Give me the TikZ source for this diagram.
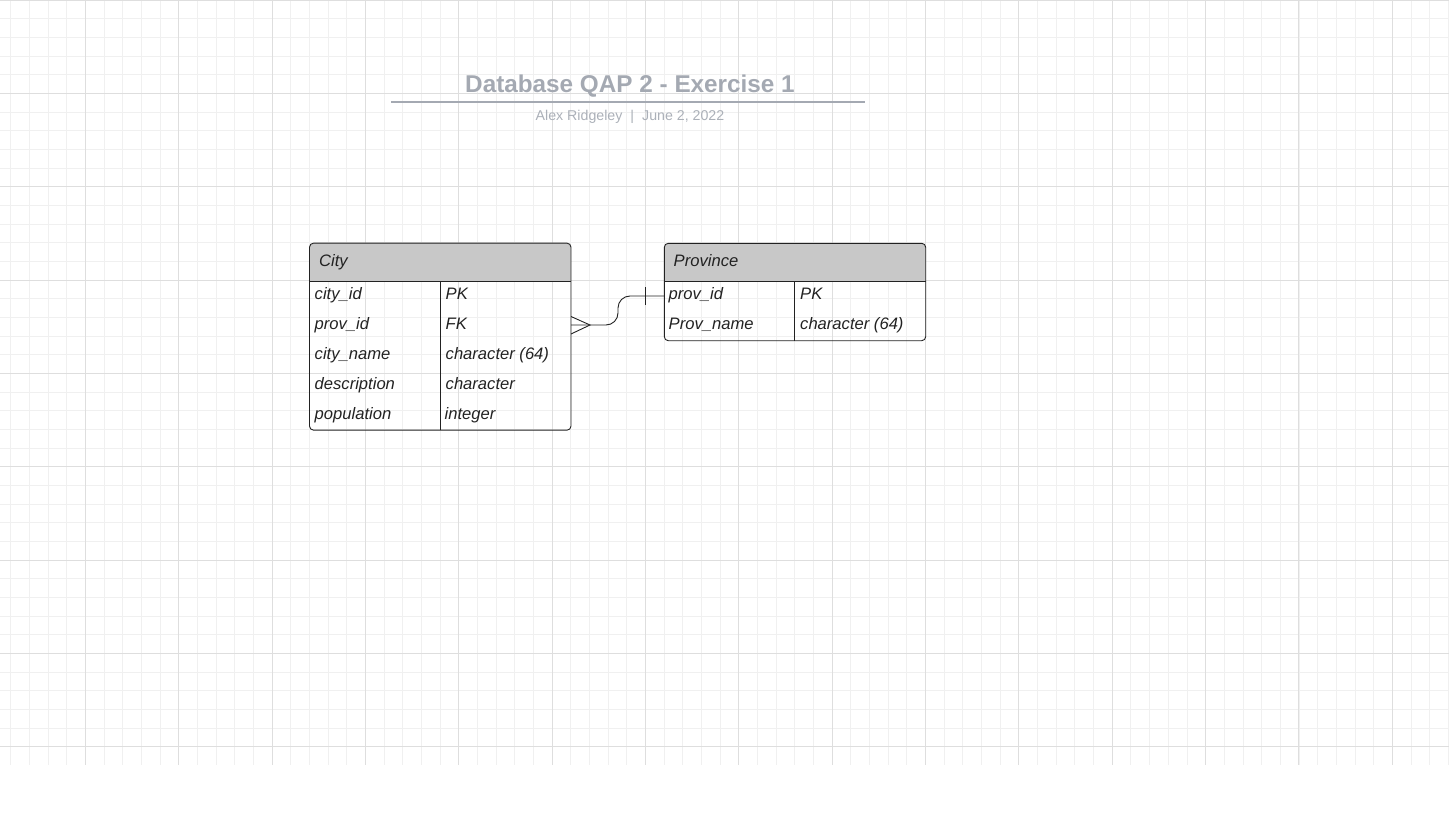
\documentclass[tikz,border=0pt]{standalone}
\usepackage{fontspec}
\setmainfont{Liberation Sans}
\usetikzlibrary{arrows}

\definecolor{gridMinor}{HTML}{F0F0F0}
\definecolor{gridMajor}{HTML}{DEDEDE}
\definecolor{titleGray}{HTML}{A4A9B2}
\definecolor{subGray}{HTML}{ABB0B8}
\definecolor{headGray}{HTML}{C8C8C8}
\definecolor{inkGray}{HTML}{222222}

\begin{document}
\begin{tikzpicture}[x = 1pt, y = -1pt]
	\tikzstyle{minorLine} = [draw = gridMinor, line width = 1pt]
	\tikzstyle{majorLine} = [draw = gridMajor, line width = 1pt]
	\tikzstyle{tableBox} = [shape = rectangle, inner sep = 0pt, outer sep = 0pt]
	\tikzstyle{tableLine} = [draw = inkGray, line width = 0.9pt]
	\tikzstyle{fieldText} = [anchor = base west, inner sep = 0pt, text = inkGray, font = \fontsize{16.6}{18}\selectfont\itshape]
	\tikzstyle{linkLine} = [draw = inkGray, line width = 0.9pt]
	\useasboundingbox (0,0) rectangle (1449,824);
	% grid
	\foreach \k in {1,...,78}
		\draw[minorLine] ({-7.7+18.667*\k},0) -- ({-7.7+18.667*\k},765);
	\foreach \k in {0,...,40}
		\draw[minorLine] (0,{0.3+18.667*\k}) -- (1449,{0.3+18.667*\k});
	\foreach \k in {1,...,15}
		\draw[majorLine] ({-7.7+93.333*\k},0) -- ({-7.7+93.333*\k},765);
	\foreach \k in {0,...,8}
		\draw[majorLine] (0,{0.3+93.333*\k}) -- (1449,{0.3+93.333*\k});
	% title
	\node[anchor = base, inner sep = 0pt, text = titleGray, font = \fontsize{24.3}{28}\selectfont\bfseries] (title) at (630,92.3) {Database QAP 2 - Exercise 1};
	\draw[draw = titleGray, line width = 2pt] (391,101.7) -- (865,101.7);
	\node[anchor = base, inner sep = 0pt, text = subGray, font = \fontsize{14.2}{17}\selectfont] (subtitle) at (630,121) {Alex Ridgeley\hspace{8pt}|\hspace{8pt}June 2, 2022};
	% City table
	\node[tableBox, minimum width = 261.5pt, minimum height = 187pt] (city) at (440.25,336.65) {};
	\begin{scope}
		\clip[rounded corners = 4pt] (city.north west) rectangle (city.south east);
		\fill[headGray] (city.north west) rectangle (571,281);
	\end{scope}
	\draw[tableLine, rounded corners = 4pt] (city.north west) rectangle (city.south east);
	\draw[tableLine] (309.5,281) -- (571,281);
	\draw[tableLine] (440.3,281) -- (440.3,430.1);
	\node[fieldText] (cityHead) at (319,266.5) {City};
	\node[fieldText] (cityId) at (314.5,299.5) {city\_id};
	\node[fieldText] (cityProvId) at (314.5,329.5) {prov\_id};
	\node[fieldText] (cityName) at (314.5,359.5) {city\_name};
	\node[fieldText] (cityDesc) at (314.5,389.5) {description};
	\node[fieldText] (cityPop) at (314.5,419.5) {population};
	\node[fieldText] (cityIdType) at (445.5,299.5) {PK};
	\node[fieldText] (cityProvType) at (445.5,329.5) {FK};
	\node[fieldText] (cityNameType) at (445.5,359.5) {character (64)};
	\node[fieldText] (cityDescType) at (445.5,389.5) {character};
	\node[fieldText] (cityPopType) at (444.5,419.5) {integer};
	% Province table
	\node[tableBox, minimum width = 261.4pt, minimum height = 97.4pt] (prov) at (795,292) {};
	\begin{scope}
		\clip[rounded corners = 4pt] (prov.north west) rectangle (prov.south east);
		\fill[headGray] (prov.north west) rectangle (925.7,281);
	\end{scope}
	\draw[tableLine, rounded corners = 4pt] (prov.north west) rectangle (prov.south east);
	\draw[tableLine] (664.3,281) -- (925.7,281);
	\draw[tableLine] (794.3,281) -- (794.3,340.7);
	\node[fieldText] (provHead) at (673.5,266.5) {Province};
	\node[fieldText] (provId) at (668.5,299.5) {prov\_id};
	\node[fieldText] (provName) at (668.5,329.5) {Prov\_name};
	\node[fieldText] (provIdType) at (800,299.5) {PK};
	\node[fieldText] (provNameType) at (800,329.5) {character (64)};
	% relationship
	\coordinate (cityLink) at (571,325);
	\coordinate (crowTip) at (590,325);
	\coordinate (provLink) at (664.3,296);
	\draw[linkLine, rounded corners = 12pt] (cityLink) -- (618,325) -- (618,296) -- (provLink);
	\draw[linkLine] (571,316.5) -- (crowTip) -- (571,334);
	\draw[linkLine] (645,287) -- (645,304.5);
\end{tikzpicture}
\end{document}
